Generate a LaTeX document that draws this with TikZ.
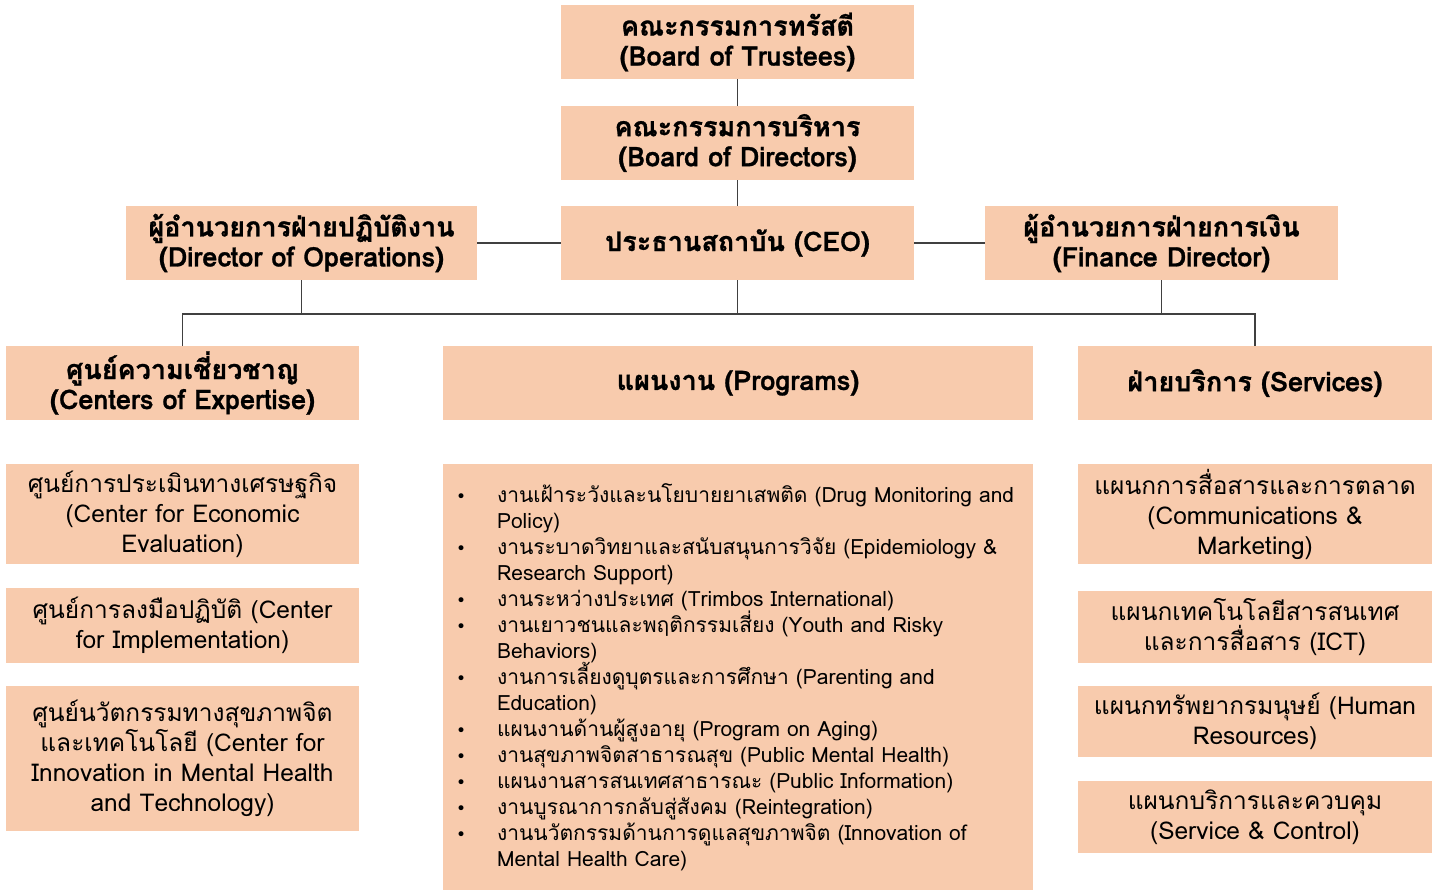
\documentclass[tikz,border=0pt]{standalone}
\usepackage{fontspec}
\setmainfont[Script=Thai, BoldFeatures={FakeBold=1}]{Loma}
\newfontfamily\symfont{DejaVu Sans}
\usepackage{xcolor}
\usepackage{tikz}
\definecolor{peach}{HTML}{F8CBAD}
\definecolor{linegray}{HTML}{404040}
\newcommand{\itm}{\makebox[42pt][l]{\hspace{1pt}{\symfont\fontsize{17}{26}\selectfont •}}}
\newcommand{\cont}{\hspace*{42pt}}
\newcommand{\listfont}{\fontsize{21}{26}\selectfont\setlength{\lineskiplimit}{-100pt}}

\begin{document}
\begin{tikzpicture}[
  x=1pt, y=-1pt,
  box/.style={fill=peach, inner sep=0pt, minimum width=353pt, minimum height=74pt,
              align=center},
  head/.style={box, font=\fontsize{27}{30}\selectfont\bfseries},
  unit/.style={box, font=\fontsize{24.5}{30}\selectfont},
  link/.style={draw=linegray, line width=1.5pt}
]
  \useasboundingbox (0,0) rectangle (1439,890);

  \node[head] (trust) at (737.5,42) {คณะกรรมการทรัสตี\\(Board of Trustees)};
  \node[head] (dir) at (737.5,143) {คณะกรรมการบริหาร\\(Board of Directors)};
  \node[head] (ceo) at (737.5,243) {ประธานสถาบัน (CEO)};
  \node[head, minimum width=351pt] (ops) at (301.5,243) {ผู้อำนวยการฝ่ายปฏิบัติงาน\\(Director of Operations)};
  \node[head] (fin) at (1161.5,243) {ผู้อำนวยการฝ่ายการเงิน\\(Finance Director)};

  \node[head] (coe) at (182.5,383) {ศูนย์ความเชี่ยวชาญ\\(Centers of Expertise)};
  \node[head, minimum width=590pt] (prog) at (738,383) {แผนงาน (Programs)};
  \node[head, minimum width=354pt] (serv) at (1255,383) {ฝ่ายบริการ (Services)};

  \node[unit, minimum height=100pt] (econ) at (182.5,514) {ศูนย์การประเมินทางเศรษฐกิจ\\(Center for Economic\\Evaluation)};
  \node[unit, minimum height=75pt] (impl) at (182.5,625.5) {ศูนย์การลงมือปฏิบัติ (Center\\for Implementation)};
  \node[unit, minimum height=145pt] (innov) at (182.5,758.5) {ศูนย์นวัตกรรมทางสุขภาพจิต\\และเทคโนโลยี (Center for\\Innovation in Mental Health\\and Technology)};

  \node[box, minimum width=590pt, minimum height=426pt, inner xsep=12pt,
        text width=566pt, align=left, font=\listfont] (plist) at (738,677) {%
    \itm งานเฝ้าระวังและนโยบายยาเสพติด (Drug Monitoring and\\
    \cont Policy)\\
    \itm งานระบาดวิทยาและสนับสนุนการวิจัย (Epidemiology \&\\
    \cont Research Support)\\
    \itm งานระหว่างประเทศ (Trimbos International)\\
    \itm งานเยาวชนและพฤติกรรมเสี่ยง (Youth and Risky\\
    \cont Behaviors)\\
    \itm งานการเลี้ยงดูบุตรและการศึกษา (Parenting and\\
    \cont Education)\\
    \itm แผนงานด้านผู้สูงอายุ (Program on Aging)\\
    \itm งานสุขภาพจิตสาธารณสุข (Public Mental Health)\\
    \itm แผนงานสารสนเทศสาธารณะ (Public Information)\\
    \itm งานบูรณาการกลับสู่สังคม (Reintegration)\\
    \itm งานนวัตกรรมด้านการดูแลสุขภาพจิต (Innovation of\\
    \cont Mental Health Care)};

  \node[unit, minimum width=354pt, minimum height=100pt] (comm) at (1255,514) {แผนกการสื่อสารและการตลาด\\(Communications \&\\Marketing)};
  \node[unit, minimum width=354pt, minimum height=72pt] (ict) at (1255,627) {แผนกเทคโนโลยีสารสนเทศ\\และการสื่อสาร (ICT)};
  \node[unit, minimum width=354pt, minimum height=71pt] (hr) at (1255,721.5) {แผนกทรัพยากรมนุษย์ (Human\\Resources)};
  \node[unit, minimum width=354pt, minimum height=72pt] (svc) at (1255,817) {แผนกบริการและควบคุม\\(Service \& Control)};

  \coordinate (bus) at (737.5,314);

  \draw[link] (trust) -- (dir);
  \draw[link] (dir) -- (ceo);
  \draw[link] (ops) -- (ceo);
  \draw[link] (ceo) -- (fin);
  \draw[link] (ceo) -- (bus);
  \draw[link] (ops) -- (ops |- bus);
  \draw[link] (fin) -- (fin |- bus);
  \draw[link] (coe.north) |- (bus) -| (serv.north);
\end{tikzpicture}
\end{document}
